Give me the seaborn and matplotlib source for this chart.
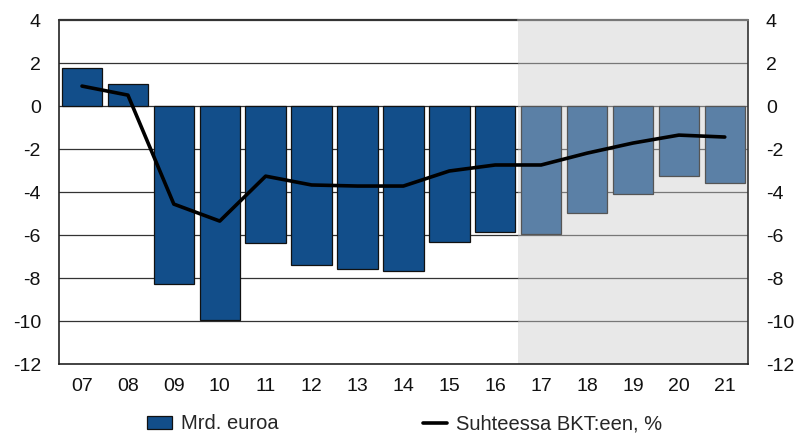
import numpy as np
import pandas as pd
import matplotlib
matplotlib.use("Agg")
import matplotlib.pyplot as plt
import seaborn as sns
from matplotlib.patches import Patch
from matplotlib.lines import Line2D

years = ["07", "08", "09", "10", "11", "12", "13", "14", "15", "16",
         "17", "18", "19", "20", "21"]
bn_euro = [1.77, 1.02, -8.28, -9.95, -6.37, -7.40, -7.58, -7.67, -6.33, -5.86,
           -5.95, -4.98, -4.09, -3.26, -3.58]
pct_gdp = [0.93, 0.51, -4.56, -5.35, -3.26, -3.67, -3.72, -3.72, -3.02, -2.74,
           -2.74, -2.19, -1.72, -1.35, -1.44]
forecast_from = "17"

y_ticks = [4, 2, 0, -2, -4, -6, -8, -10, -12]

sns.set_theme(style="white")
plt.rcParams["font.family"] = ["Liberation Sans", "DejaVu Sans"]

hist_color = "#124e8a"
fcst_color = "#5b80a6"
n_hist = years.index(forecast_from)
colors = [hist_color] * n_hist + [fcst_color] * (len(years) - n_hist)

df = pd.DataFrame({"year": years, "bn": bn_euro, "pct": pct_gdp})

fig = plt.figure(figsize=(7.98, 4.37), dpi=100)
ax = fig.add_axes([0.074, 0.167, 0.863, 0.787])

sns.barplot(data=df, x="year", y="bn", hue="year", palette=colors,
            legend=False, width=0.88, ax=ax, zorder=3, saturation=1)
for i, bar in enumerate(ax.patches):
    bar.set_edgecolor("#111111" if i < n_hist else "#555555")
    bar.set_linewidth(0.9)

sns.lineplot(x=np.arange(len(years)), y=df["pct"], color="black",
             linewidth=2.6, ax=ax, zorder=4)

ax.set_xlim(-0.5, len(years) - 0.5)
ax.set_ylim(-12, 4)

# forecast period shading
x0 = n_hist - 0.5
ax.axvspan(x0, len(years) - 0.5, facecolor="#e8e8e8", edgecolor="none",
           linewidth=0, zorder=0)

ax.set_yticks(y_ticks)
ax.set_yticklabels([str(t) for t in y_ticks])
for t in y_ticks[1:-1]:
    ax.plot([-0.5, x0], [t, t], color="#333333", lw=0.9, zorder=1)
    ax.plot([x0, len(years) - 0.5], [t, t], color="#777777", lw=0.9, zorder=1)
ax.set_xlabel("")
ax.set_ylabel("")
ax.tick_params(axis="both", length=0, labelsize=14, colors="#111111")
ax.tick_params(axis="x", pad=10)
ax.tick_params(axis="y", pad=13)
ax.tick_params(axis="y", labelright=True, right=False)
for side in ["left", "bottom"]:
    ax.spines[side].set_color("#222222")
    ax.spines[side].set_linewidth(1.2)
ax.spines["right"].set_color("#333333")
ax.spines["right"].set_linewidth(1.2)
ax.spines["top"].set_visible(False)
ax.plot([-0.5, x0], [4, 4], color="#333333", lw=1.6, zorder=5, clip_on=False)
ax.plot([x0, len(years) - 0.5], [4, 4], color="#777777", lw=1.6, zorder=5,
        clip_on=False)

handles = [Patch(facecolor=hist_color, edgecolor="#111111", lw=0.9),
           Line2D([0], [0], color="black", lw=2.6)]
fig.legend(handles, ["Mrd. euroa", "Suhteessa BKT:een, %"],
           loc="center left", bbox_to_anchor=(0.162, 0.03), ncol=2,
           frameon=False, fontsize=14.5, columnspacing=7.2,
           handlelength=1.2, handleheight=0.6, handletextpad=0.45)

fig.savefig("out.png", dpi=100)
